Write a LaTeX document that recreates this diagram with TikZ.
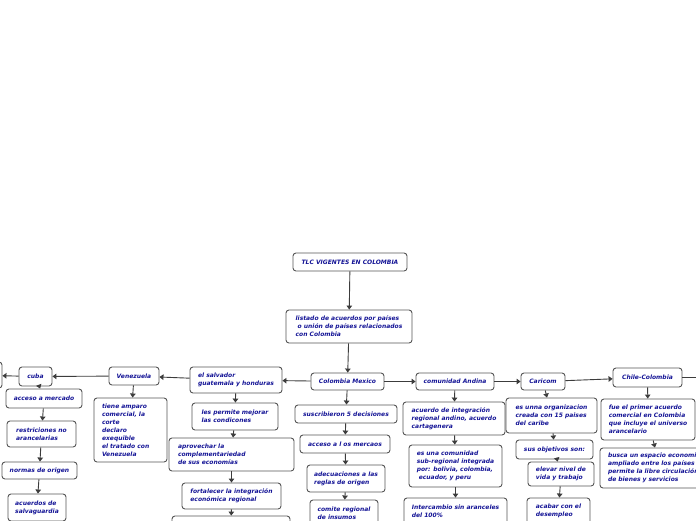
\documentclass[tikz,border=0pt]{standalone}
\usepackage{fontspec}
\newfontfamily\mapfont{DejaVu Sans Bold Oblique}
\usetikzlibrary{arrows.meta}
\definecolor{navy}{RGB}{20,20,150}
\definecolor{boxline}{RGB}{85,85,85}
\definecolor{arrowc}{RGB}{60,60,60}
\begin{document}
\begin{tikzpicture}[x=1pt,y=-1pt,
  bx/.style={draw=boxline, line width=0.9pt, rounded corners=3pt, fill=white, text=navy,
    font=\mapfont\fontsize{6}{8}\selectfont, inner sep=0pt, align=center},
  lbx/.style={bx, align=left},
  wh/.style 2 args={minimum width=#1pt, minimum height=#2pt},
  conn/.style={draw=arrowc, line width=0.9pt, -{Triangle[width=5.5pt,length=4pt]}}]
\useasboundingbox (0,0) rectangle (696,520);
\clip (0,0) rectangle (696,520);
\fill[white] (0,0) rectangle (696,520);

% top
\node[bx, wh={114}{18}] (t) at (350,262) {TLC VIGENTES EN COLOMBIA};
\node[lbx, wh={126}{33}] (l) at (349,326.5) {listado de acuerdos por países\\\hspace*{0.35em}o unión de países relacionados\\con Colombia};

% main row
\node[bx, wh={73}{17}] (cm) at (347.5,381.5) {Colombia Mexico};
\node[bx, wh={78}{17}] (ca) at (455,381.5) {comunidad Andina};
\node[bx, wh={44}{17}] (car) at (543,381.5) {Caricom};
\node[bx, wh={69}{19}] (ch) at (647.5,377.5) {Chile-Colombia};
\node[lbx, wh={92}{26}] (es) at (236,380) {el salvador\\guatemala y honduras};
\node[bx, wh={50}{18}] (ve) at (134,376) {Venezuela};
\node[bx, wh={33}{19}] (cu) at (35.5,376.5) {cuba};
\node[bx, wh={62}{26}] (lo) at (-29,375) {};
\coordinate (offr) at (720,377.5);

% Colombia Mexico column
\node[bx, wh={102}{18}] (cm1) at (346,414) {suscribieron 5 decisiones};
\node[bx, wh={90}{18}] (cm2) at (345,444) {acceso a l os mercaos};
\node[lbx, wh={78}{27}] (cm3) at (346,478.5) {adecuaciones a las\\reglas de origen};
\node[lbx, wh={68}{26}] (cm4) at (344,513) {comite regional\\de insumos};

% el salvador column
\node[lbx, wh={86}{27}] (es1) at (235,416.5) {les permite mejorar\\las condicones};
\node[lbx, wh={125}{33}, text width=107pt] (es2) at (231.5,454.5) {aprovechar la\\complementariedad\\de sus economías};
\node[lbx, wh={99}{26}] (es3) at (231.5,496) {fortalecer la integración\\económica regional};
\node[bx, wh={118}{38}] (es4) at (231,535) {};

% Venezuela
\node[lbx, wh={73}{64}, text width=57pt] (ve1) at (130.5,430) {tiene amparo\\comercial, la\\corte\\declaro\\exequible\\el tratado con\\Venezuela};

% cuba column
\node[bx, wh={76}{19}] (cu1) at (44,398.5) {acceso a mercado};
\node[lbx, wh={69}{26}] (cu2) at (41.5,434) {restriciones no\\arancelarias};
\node[bx, wh={75}{17}] (cu3) at (39.5,470.5) {normas de origen};
\node[lbx, wh={58}{27}] (cu4) at (37,507.5) {acuerdos de\\salvaguardia};

% comunidad Andina column
\node[lbx, wh={102}{33}] (ca1) at (454,418.5) {acuerdo de integración\\regional andino, acuerdo\\cartagenera};
\node[lbx, wh={93}{42}] (ca2) at (455.5,466) {es una comunidad\\sub-regional integrada\\por: bolivia, colombia,\\\hspace*{0.35em}ecuador, y peru};
\node[lbx, wh={103}{26}] (ca3) at (455.5,511) {Intercambio sin aranceles\\del 100\%};

% Caricom column
\node[lbx, wh={91}{35}] (car1) at (551.5,415.5) {es unna organizacion\\creada con 15 paises\\del caribe};
\node[bx, wh={77}{19}] (car2) at (554.5,449.5) {sus objetivos son:};
\node[lbx, wh={66}{24}] (car3) at (561,474) {elevar nivel de\\vida y trabajo};
\node[lbx, wh={63}{26}] (car4) at (558.5,511) {acabar con el\\desempleo};

% Chile column
\node[lbx, wh={94}{41}] (ch1) at (648,419.5) {fue el primer acuerdo\\comercial en Colombia\\que incluye el universo\\arancelario};
\node[lbx, wh={120}{40}, text width=104pt] (ch2) at (660,468) {busca un espacio economico\\ampliado entre los países\\permite la libre circulación\\de bienes y servicios};

% connectors
\draw[conn] (t) -- (l);
\draw[conn] (l) -- (cm);
\draw[conn] (cm) -- (es);
\draw[conn] (es) -- (ve);
\draw[conn] (ve) -- (cu);
\draw[conn] (cu) -- (lo);
\draw[conn] (cm) -- (ca);
\draw[conn] (ca) -- (car);
\draw[conn] (car) -- (ch);
\draw[conn] (ch) -- (offr);

\draw[conn] (cm) -- (cm1);
\draw[conn] (cm1) -- (cm2);
\draw[conn] (cm2) -- (cm3);
\draw[conn] (cm3) -- (cm4);

\draw[conn] (es) -- (es1);
\draw[conn] (es1) -- (es2);
\draw[conn] (es2) -- (es3);
\draw[conn] (es3) -- (es4);

\draw[conn] (ve) -- (ve1);

\draw[conn] (cu) -- (cu1);
\draw[conn] (cu1) -- (cu2);
\draw[conn] (cu2) -- (cu3);
\draw[conn] (cu3) -- (cu4);

\draw[conn] (ca) -- (ca1);
\draw[conn] (ca1) -- (ca2);
\draw[conn] (ca2) -- (ca3);

\draw[conn] (car) -- (car1);
\draw[conn] (car1) -- (car2);
\draw[conn] (car2) -- (car3);
\draw[conn] (car3) -- (car4);

\draw[conn] (ch) -- (ch1);
\draw[conn] (ch1) -- (ch2);
\end{tikzpicture}
\end{document}
